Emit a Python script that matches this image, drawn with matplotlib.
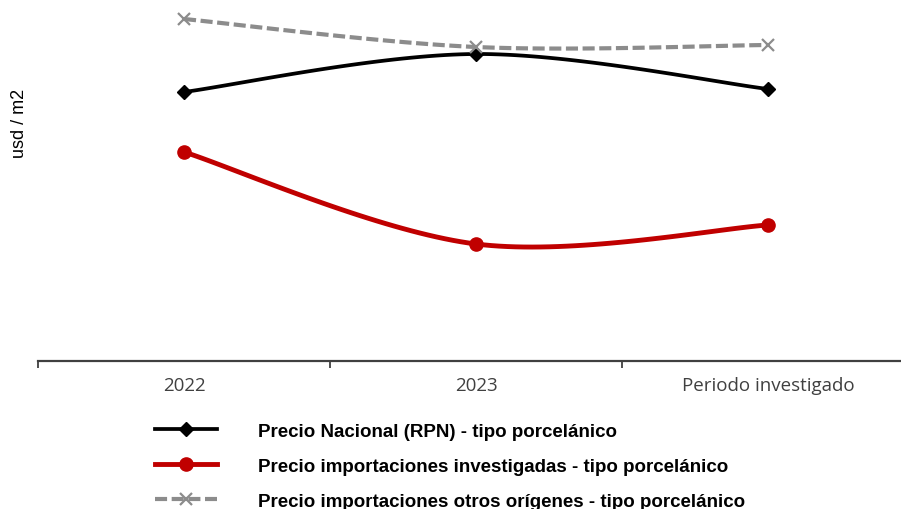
import numpy as np
import matplotlib

matplotlib.use("Agg")
from matplotlib import pyplot as plt
from matplotlib.lines import Line2D


periods = ["2022", "2023", "Periodo investigado"]
precio_nacional = [269, 307, 272]
precio_investigadas = [209, 117, 136]
precio_otros = [342, 314, 316]

labels = [
    "Precio Nacional (RPN) - tipo porcelánico",
    "Precio importaciones investigadas - tipo porcelánico",
    "Precio importaciones otros orígenes - tipo porcelánico",
]


def smooth_curve(xs, ys, steps=40):
    # bezier segments with catmull-rom style control points (like excel smoothing)
    pts = np.column_stack([xs, ys]).astype(float)
    ext = np.vstack([pts[0], pts, pts[-1]])
    out = []
    for i in range(len(pts) - 1):
        p0, p3 = ext[i + 1], ext[i + 2]
        c1 = p0 + (ext[i + 2] - ext[i]) / 6.0
        c2 = p3 - (ext[i + 3] - ext[i + 1]) / 6.0
        t = np.linspace(0, 1, steps)[:, None]
        seg = ((1 - t) ** 3) * p0 + 3 * ((1 - t) ** 2) * t * c1 + 3 * (1 - t) * t ** 2 * c2 + t ** 3 * p3
        out.append(seg if i == 0 else seg[1:])
    curve = np.vstack(out)
    return curve[:, 0], curve[:, 1]


fig = plt.figure(figsize=(9.01, 5.10), dpi=100)
ax = fig.add_axes([38 / 901, 148 / 510, 863 / 901, 362 / 510])

x = np.arange(len(periods))
series = [
    (precio_nacional, "black", dict(lw=2.7, ls="-"), dict(marker="D", ms=7.2)),
    (precio_investigadas, "#c00000", dict(lw=3.5, ls="-"), dict(marker="o", ms=9.5)),
    (precio_otros, "#8c8c8c", dict(lw=3.0, ls=(0, (2.9, 1.1))), dict(marker="x", ms=9, mew=1.6)),
]

handles = []
for values, color, line_kw, mark_kw in series:
    sx, sy = smooth_curve(x, values)
    ax.plot(sx, sy, color=color, solid_capstyle="butt", clip_on=False, **line_kw)
    ax.plot(x, values, ls="none", color=color, clip_on=False, **mark_kw)
    handles.append(Line2D([0], [0], color=color, **line_kw, **mark_kw))

for side in ["top", "right", "left"]:
    ax.spines[side].set_visible(False)
ax.spines["bottom"].set_color("#404040")
ax.spines["bottom"].set_linewidth(1.6)
ax.set_yticks([])

ax.set_xticks([-0.5, 0.5, 1.5, 2.5])
ax.set_xticklabels([])
ax.tick_params(axis="x", direction="out", length=5, width=1.3, color="#404040")
ax.set_xlim(-0.5, -0.5 + 863 / 292)
ax.set_ylim(0, 362)

for i, name in enumerate(periods):
    ax.text(i, -15, name, ha="center", va="top", fontsize=13.5,
            family="Open Sans", color="#404040", transform=ax.transData)

fig.text(20 / 901, 1 - 123 / 510, "usd / m2", rotation=90, ha="center", va="center",
         fontsize=13, family="Liberation Sans")

fig.legend(handles, labels, loc="upper left", bbox_to_anchor=(138 / 901, 1 - 407 / 510),
           frameon=False, handlelength=3.3, handletextpad=2.2, labelspacing=0.95,
           prop={"family": "Liberation Sans", "weight": "bold", "size": 13.5})

fig.savefig("out.png", dpi=100)
